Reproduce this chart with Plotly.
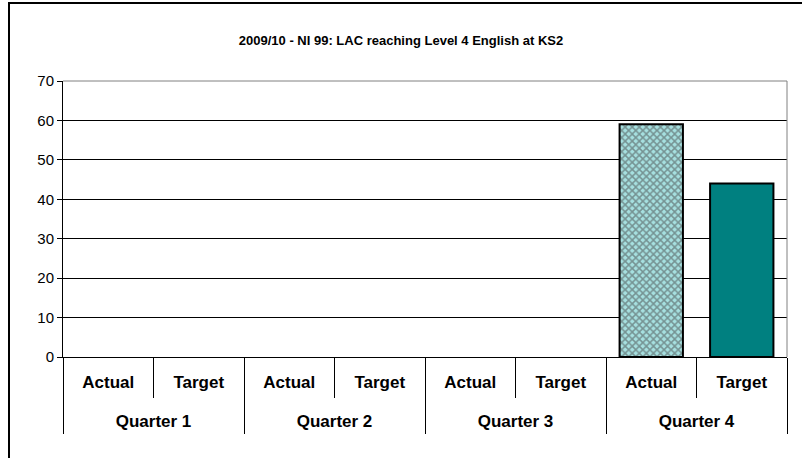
import plotly.graph_objects as go

quarters = ["Quarter 1", "Quarter 2", "Quarter 3", "Quarter 4"]
measures = ["Actual", "Target"]
actual = [None, None, None, 59]
target = [None, None, None, 44]

title = "2009/10 - NI 99: LAC reaching Level 4 English at KS2"

keys, labels, vals, colors, shapes_p = [], [], [], [], []
for i, q in enumerate(quarters):
    for m, series in zip(measures, (actual, target)):
        keys.append(q + " | " + m)
        labels.append(m)
        vals.append(series[i])
        if m == "Actual":
            colors.append("#a6e0e0")
            shapes_p.append("x")
        else:
            colors.append("#008080")
            shapes_p.append("")

fig = go.Figure()
fig.add_trace(go.Bar(
    x=keys, y=vals,
    marker=dict(
        color=colors,
        line=dict(color="black", width=2),
        pattern=dict(shape=shapes_p, fgcolor="#119a9a",
                     size=5, solidity=0.5, fillmode="overlay"),
    ),
    showlegend=False, hoverinfo="skip",
))
# quarter-level axis (no visible marks; only provides the group axis)
fig.add_trace(go.Bar(
    x=quarters, y=[None] * len(quarters), xaxis="x2",
    showlegend=False, hoverinfo="skip",
))

FW, FH = 802, 458
L, R, T, B = 63, 15, 81, 101
W, H = FW - L - R, FH - T - B

def px_x(p):
    return (p - L) / W

def px_y(p):
    return (FH - B - p) / H

font_family = "Liberation Sans, Arial, sans-serif"

fig.update_layout(
    width=FW, height=FH,
    margin=dict(l=L, r=R, t=T, b=B),
    paper_bgcolor="white", plot_bgcolor="white",
    bargap=0.3,
    font=dict(family=font_family, color="black", size=12),
    title=dict(text="<b>" + title + "</b>", x=0.5, xanchor="center",
               y=1 - 40 / FH, yanchor="middle",
               font=dict(size=13, family=font_family)),
    xaxis=dict(
        type="category", categoryorder="array", categoryarray=keys,
        tickmode="array", tickvals=keys, ticktext=labels,
        range=[-0.5, len(keys) - 0.5],
        automargin=False,
        showline=True, linecolor="black", linewidth=1,
        showgrid=False,
        ticks="outside", tickson="boundaries", ticklen=40, tickcolor="black",
        ticklabelstandoff=10,
        tickfont=dict(size=17, weight="bold"),
    ),
    xaxis2=dict(
        type="category", overlaying="x", anchor="y", side="bottom",
        categoryorder="array", categoryarray=quarters,
        range=[-0.5, len(quarters) - 0.5],
        automargin=False,
        showline=False, showgrid=False, zeroline=False,
        ticks="outside", tickson="boundaries", ticklen=76, tickcolor="black",
        ticklabelstandoff=52,
        tickfont=dict(size=17, weight="bold"),
    ),
    yaxis=dict(
        range=[0, 70], dtick=10, tick0=0,
        automargin=False,
        showline=True, linecolor="black", linewidth=1,
        showgrid=True, gridcolor="black", gridwidth=1,
        zeroline=False,
        ticks="outside", ticklen=5, tickcolor="black",
        tickfont=dict(size=15),
    ),
    shapes=[
        dict(type="line", xref="paper", yref="paper", x0=0, x1=1, y0=1, y1=1,
             line=dict(color="#808080", width=1)),
        dict(type="line", xref="paper", yref="paper", x0=1, x1=1, y0=0, y1=1,
             line=dict(color="#808080", width=1)),
        dict(type="rect", xref="paper", yref="paper",
             x0=px_x(9), x1=px_x(830), y0=px_y(3), y1=px_y(480),
             line=dict(color="black", width=2), fillcolor="rgba(0,0,0,0)"),
    ],
)

fig.write_html("out.html", config={"displayModeBar": False},
               post_script="document.body.style.margin='0';")
